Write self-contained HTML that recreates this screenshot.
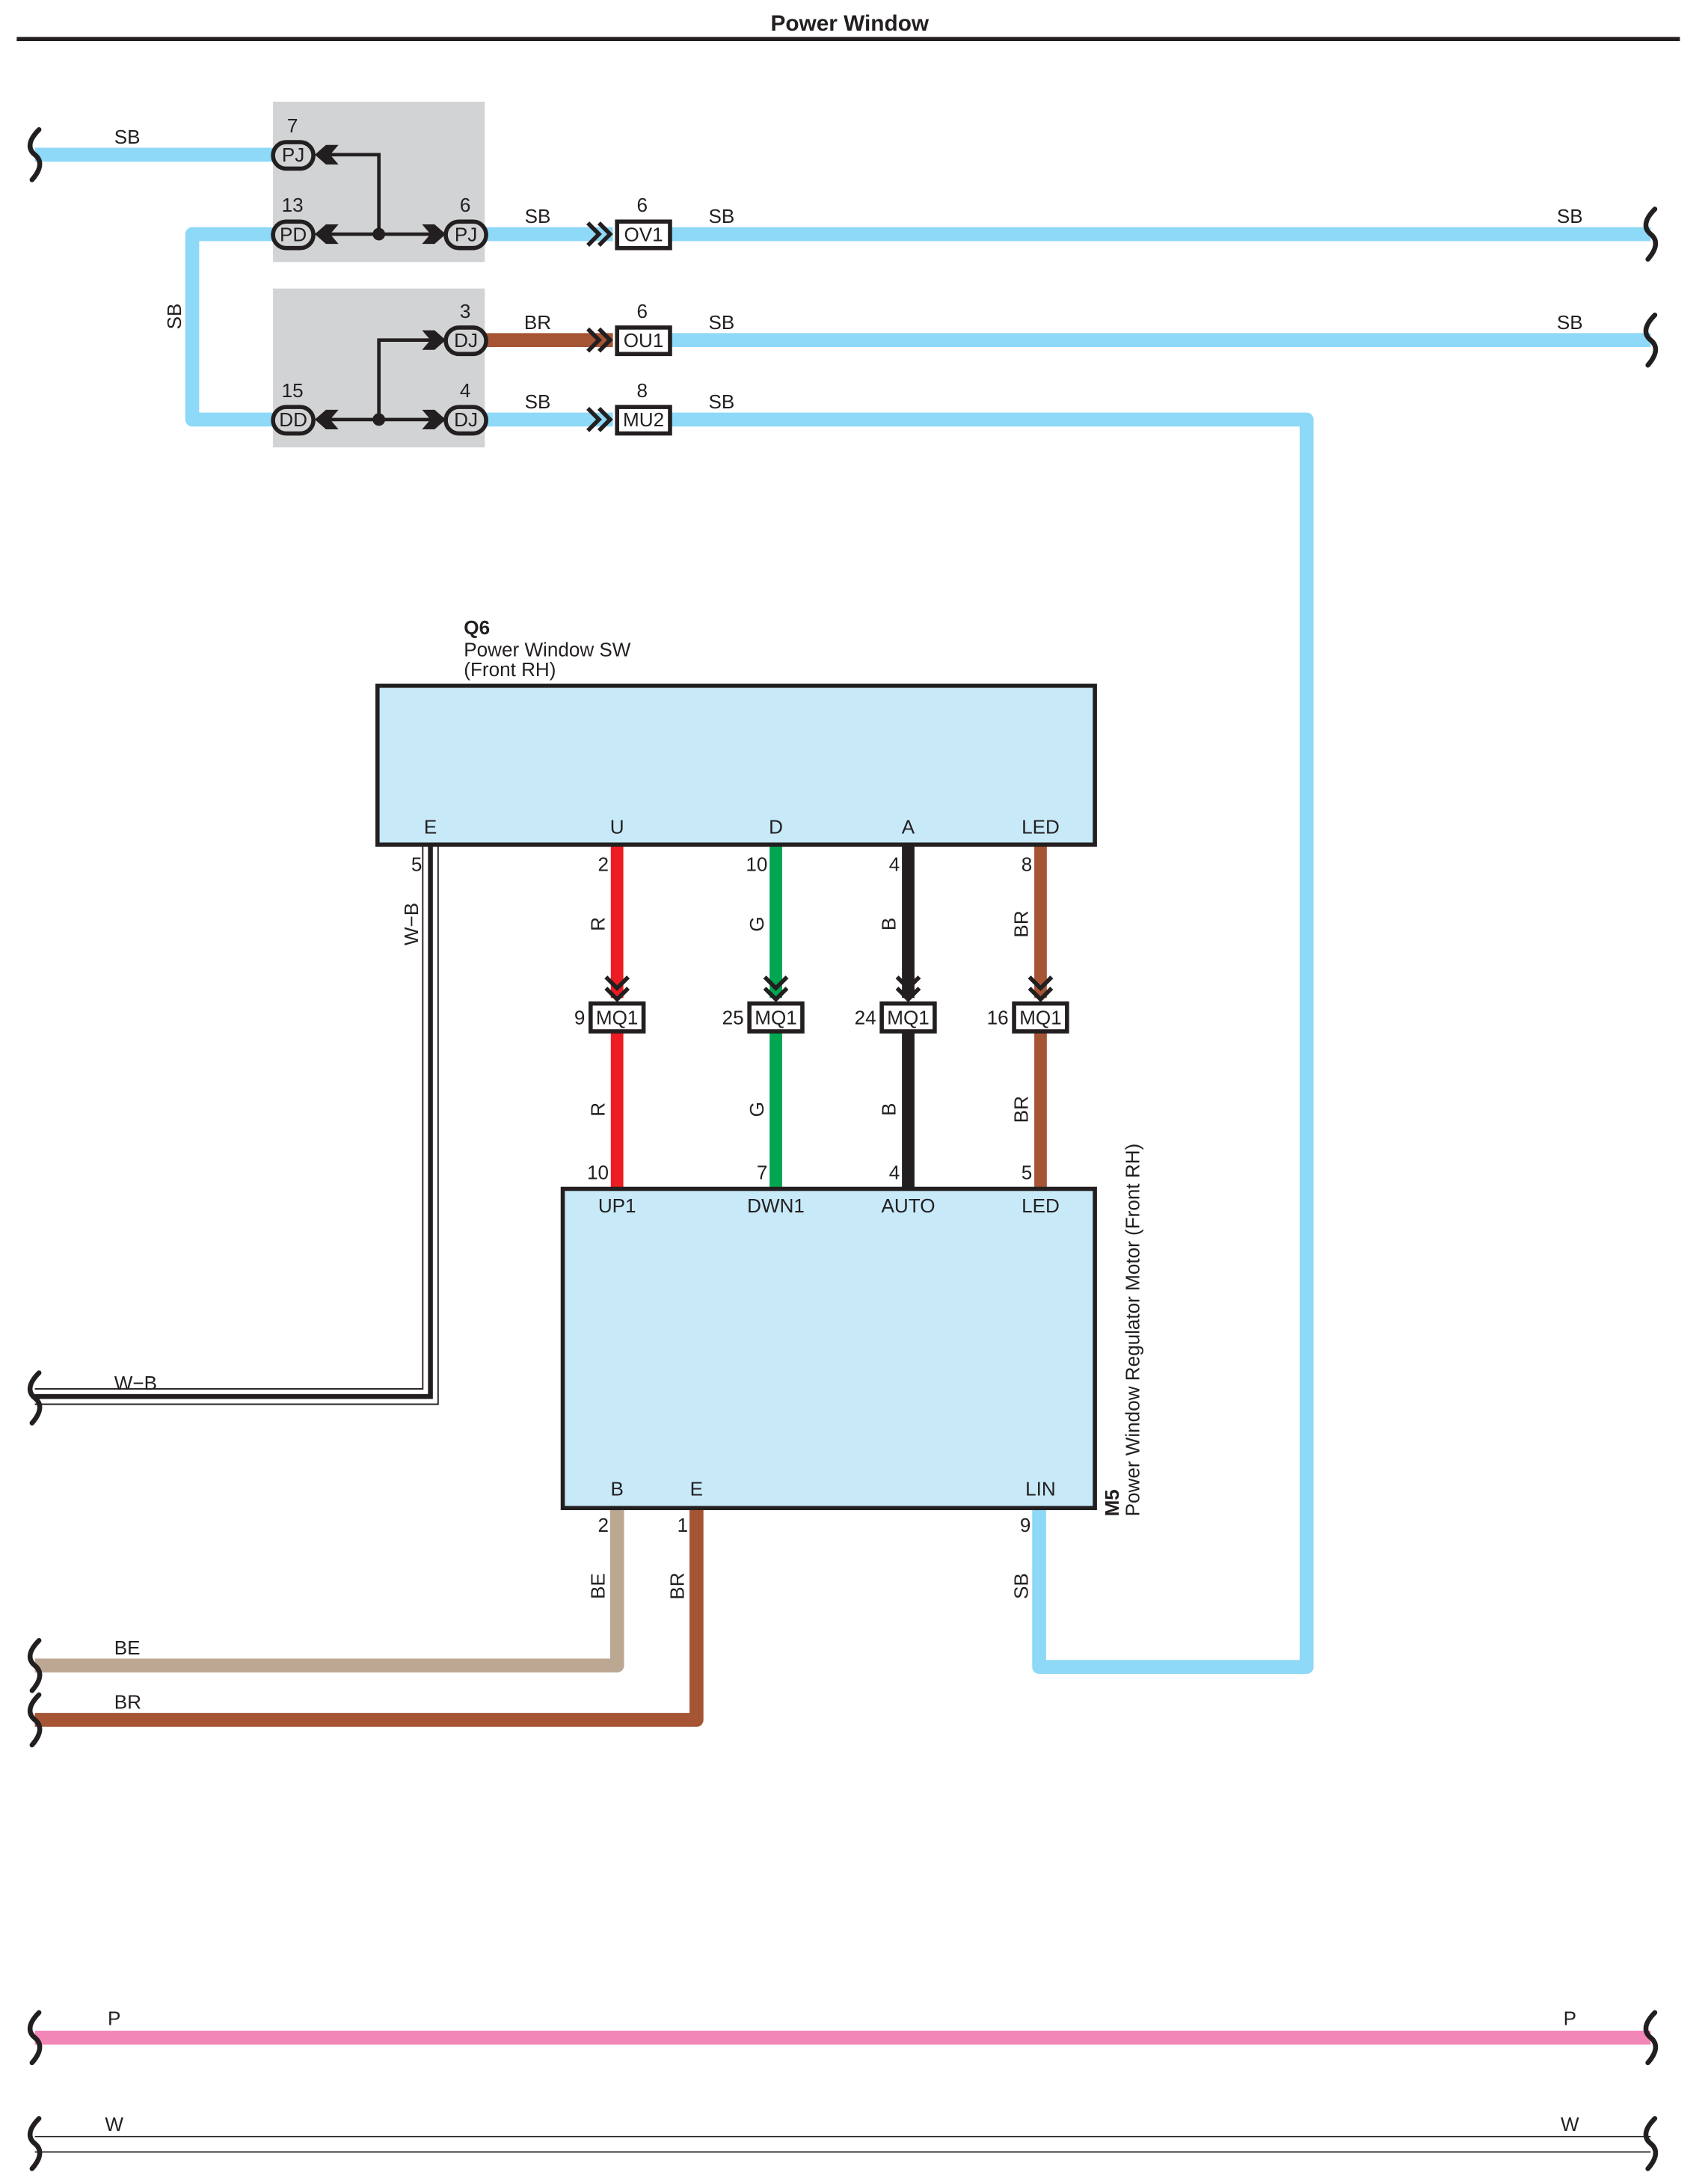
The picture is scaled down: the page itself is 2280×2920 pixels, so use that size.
<!DOCTYPE html>
<html><head><meta charset="utf-8"><style>
html,body{margin:0;padding:0;background:#fff}
svg{display:block}
text{font-family:"Liberation Sans Narrow","Liberation Sans",Arial,sans-serif;font-size:14px;fill:#231f20}
</style></head><body>
<svg width="2280" height="2920" viewBox="0 0 1224 1567" preserveAspectRatio="none" xmlns="http://www.w3.org/2000/svg">
<defs>
<g id="sqL"><path d="M28,-18 C20,-10 20,-4 25,0 C30,4 30,10 23,18" fill="none" stroke="#231f20" stroke-width="3.5" stroke-linecap="round"/></g>
<g id="chR"><polyline points="-16,-8 -8,0 -16,8" fill="none" stroke="#231f20" stroke-width="3"/><polyline points="-8,-8 0,0 -8,8" fill="none" stroke="#231f20" stroke-width="3"/></g>
<g id="chD"><polyline points="-8,-16 0,-8 8,-16" fill="none" stroke="#231f20" stroke-width="3"/><polyline points="-8,-8 0,0 8,-8" fill="none" stroke="#231f20" stroke-width="3"/></g>
</defs>
<text x="610" y="22" text-anchor="middle" style="font-family:'Liberation Sans',Arial,sans-serif;font-weight:bold;font-size:16px">Power Window</text>
<line x1="12" y1="28" x2="1206" y2="28" stroke="#231f20" stroke-width="3"/>

<rect x="196" y="73" width="152" height="115" fill="#d1d3d4"/>
<rect x="196" y="207" width="152" height="114" fill="#d1d3d4"/>

<g fill="none" stroke="#8ed8f8" stroke-width="10" stroke-linejoin="round">
<path d="M25,111 L200,111"/>
<path d="M200,168 L138,168 L138,301 L200,301"/>
<path d="M348,168 L440,168"/>
<path d="M348,301 L440,301"/>
<path d="M481,168 L1185,168"/>
<path d="M481,244 L1185,244"/>
<path d="M481,301 L938,301 L938,1196 L746,1196 L746,1083"/>
</g>
<path d="M348,244 L440,244" stroke="#a65534" stroke-width="10"/>
<text x="82" y="103">SB</text>
<text x="0" y="0" transform="translate(130,227) rotate(-90)" text-anchor="middle">SB</text>
<text x="386" y="160" text-anchor="middle">SB</text>
<text x="386" y="236" text-anchor="middle">BR</text>
<text x="386" y="293" text-anchor="middle">SB</text>
<text x="518" y="160" text-anchor="middle">SB</text>
<text x="518" y="236" text-anchor="middle">SB</text>
<text x="518" y="293" text-anchor="middle">SB</text>
<text x="1127" y="160" text-anchor="middle">SB</text>
<text x="1127" y="236" text-anchor="middle">SB</text>
<use href="#sqL" transform="translate(0,111)"/>
<use href="#sqL" transform="translate(1160,168)"/>
<use href="#sqL" transform="translate(1160,244)"/>

<g stroke="#231f20" stroke-width="2.5" fill="none">
<path d="M236,111 L272,111 L272,168"/>
<path d="M236,168 L312,168"/>
<path d="M236,301 L312,301"/>
<path d="M272,301 L272,244 L312,244"/>
</g>
<circle cx="272" cy="168" r="4.5" fill="#231f20"/>
<circle cx="272" cy="301" r="4.5" fill="#231f20"/>
<g fill="#231f20">
<polygon points="226,111 234,104 243,104 237,111 243,118 234,118"/>
<polygon points="226,168 234,161 243,161 237,168 243,175 234,175"/>
<polygon points="226,301 234,294 243,294 237,301 243,308 234,308"/>
<polygon points="320,168 312,161 303,161 309,168 303,175 312,175"/>
<polygon points="320,244 312,237 303,237 309,244 303,251 312,251"/>
<polygon points="320,301 312,294 303,294 309,301 303,308 312,308"/>
</g>
<g fill="#d1d3d4" stroke="#231f20" stroke-width="3">
<rect x="196" y="102" width="29" height="19" rx="9.5"/>
<rect x="196" y="159" width="29" height="19" rx="9.5"/>
<rect x="196" y="292" width="29" height="19" rx="9.5"/>
<rect x="320" y="159" width="29" height="19" rx="9.5"/>
<rect x="320" y="235" width="29" height="19" rx="9.5"/>
<rect x="320" y="292" width="29" height="19" rx="9.5"/>
</g>
<g text-anchor="middle">
<text x="210.5" y="116">PJ</text><text x="210" y="95">7</text>
<text x="210.5" y="173">PD</text><text x="210" y="152">13</text>
<text x="210.5" y="306">DD</text><text x="210" y="285">15</text>
<text x="334.5" y="173">PJ</text><text x="334" y="152">6</text>
<text x="334.5" y="249">DJ</text><text x="334" y="228">3</text>
<text x="334.5" y="306">DJ</text><text x="334" y="285">4</text>
</g>
<use href="#chR" transform="translate(438,168)"/>
<use href="#chR" transform="translate(438,244)"/>
<use href="#chR" transform="translate(438,301)"/>
<g fill="#fff" stroke="#231f20" stroke-width="3">
<rect x="443" y="159" width="38" height="19"/>
<rect x="443" y="235" width="38" height="19"/>
<rect x="443" y="292" width="38" height="19"/>
</g>
<g text-anchor="middle">
<text x="462" y="173">OV1</text><text x="461" y="152">6</text>
<text x="462" y="249">OU1</text><text x="461" y="228">6</text>
<text x="462" y="306">MU2</text><text x="461" y="285">8</text>
</g>

<text x="333" y="455" style="font-weight:bold">Q6</text>
<text x="333" y="471">Power Window SW</text>
<text x="333" y="485">(Front RH)</text>

<path d="M309,606 L309,1002 L25,1002" fill="none" stroke="#231f20" stroke-width="12"/>
<path d="M309,606 L309,1002 L25,1002" fill="none" stroke="#fff" stroke-width="10"/>
<path d="M309,606 L309,1002 L25,1002" fill="none" stroke="#231f20" stroke-width="3.5"/>
<use href="#sqL" transform="translate(0,1003)"/>
<text x="82" y="997">W−B</text>
<text transform="translate(300,663) rotate(-90)" text-anchor="middle">W−B</text>
<text x="303" y="625" text-anchor="end">5</text>

<g stroke-width="9" fill="none">
<path d="M443,606 L443,716 M443,740 L443,853" stroke="#ed1c24"/>
<path d="M557,606 L557,716 M557,740 L557,853" stroke="#00a650"/>
<path d="M652,606 L652,716 M652,740 L652,853" stroke="#231f20"/>
<path d="M747,606 L747,716 M747,740 L747,853" stroke="#a65534"/>
</g>
<use href="#chD" transform="translate(443,717)"/>
<use href="#chD" transform="translate(557,717)"/>
<use href="#chD" transform="translate(652,717)"/>
<use href="#chD" transform="translate(747,717)"/>
<g fill="#fff" stroke="#231f20" stroke-width="3">
<rect x="424" y="720" width="38" height="20"/>
<rect x="538" y="720" width="38" height="20"/>
<rect x="633" y="720" width="38" height="20"/>
<rect x="728" y="720" width="38" height="20"/>
</g>
<g text-anchor="middle">
<text x="443" y="735">MQ1</text><text x="557" y="735">MQ1</text><text x="652" y="735">MQ1</text><text x="747" y="735">MQ1</text>
</g>
<g text-anchor="end">
<text x="420" y="735">9</text><text x="534" y="735">25</text><text x="629" y="735">24</text><text x="724" y="735">16</text>
<text x="437" y="625">2</text><text x="551" y="625">10</text><text x="646" y="625">4</text><text x="741" y="625">8</text>
<text x="437" y="846">10</text><text x="551" y="846">7</text><text x="646" y="846">4</text><text x="741" y="846">5</text>
</g>
<g text-anchor="middle">
<text transform="translate(434,663) rotate(-90)">R</text>
<text transform="translate(548,663) rotate(-90)">G</text>
<text transform="translate(643,663) rotate(-90)">B</text>
<text transform="translate(738,663) rotate(-90)">BR</text>
<text transform="translate(434,796) rotate(-90)">R</text>
<text transform="translate(548,796) rotate(-90)">G</text>
<text transform="translate(643,796) rotate(-90)">B</text>
<text transform="translate(738,796) rotate(-90)">BR</text>
</g>

<rect x="271" y="492" width="515" height="114" fill="#c7e9f8" stroke="#231f20" stroke-width="3"/>
<g text-anchor="middle">
<text x="309" y="598">E</text><text x="443" y="598">U</text><text x="557" y="598">D</text><text x="652" y="598">A</text><text x="747" y="598">LED</text>
</g>

<path d="M25,1195 L443,1195 L443,1083" fill="none" stroke="#bca793" stroke-width="10" stroke-linejoin="round"/>
<path d="M25,1234 L500,1234 L500,1083" fill="none" stroke="#a65534" stroke-width="10" stroke-linejoin="round"/>
<use href="#sqL" transform="translate(0,1195)"/>
<use href="#sqL" transform="translate(0,1234)"/>
<text x="82" y="1187">BE</text>
<text x="82" y="1226">BR</text>
<text x="437" y="1099" text-anchor="end">2</text>
<text x="494" y="1099" text-anchor="end">1</text>
<text x="740" y="1099" text-anchor="end">9</text>
<g text-anchor="middle">
<text transform="translate(434,1138) rotate(-90)">BE</text>
<text transform="translate(491,1138) rotate(-90)">BR</text>
<text transform="translate(738,1138) rotate(-90)">SB</text>
</g>

<rect x="404" y="853" width="382" height="229" fill="#c7e9f8" stroke="#231f20" stroke-width="3"/>
<g text-anchor="middle">
<text x="443" y="870">UP1</text><text x="557" y="870">DWN1</text><text x="652" y="870">AUTO</text><text x="747" y="870">LED</text>
<text x="443" y="1073">B</text><text x="500" y="1073">E</text><text x="747" y="1073">LIN</text>
</g>
<text transform="translate(803,1088) rotate(-90)" style="font-weight:bold">M5</text>
<text transform="translate(818,1088) rotate(-90)">Power Window Regulator Motor (Front RH)</text>

<path d="M25,1462 L1185,1462" stroke="#f287b7" stroke-width="10"/>
<use href="#sqL" transform="translate(0,1462)"/>
<use href="#sqL" transform="translate(1160,1462)"/>
<text x="82" y="1453" text-anchor="middle">P</text>
<text x="1127" y="1453" text-anchor="middle">P</text>
<line x1="25" y1="1533" x2="1185" y2="1533" stroke="#231f20" stroke-width="0.8"/>
<line x1="25" y1="1544" x2="1185" y2="1544" stroke="#231f20" stroke-width="0.8"/>
<use href="#sqL" transform="translate(0,1538)"/>
<use href="#sqL" transform="translate(1160,1538)"/>
<text x="82" y="1529" text-anchor="middle">W</text>
<text x="1127" y="1529" text-anchor="middle">W</text>
</svg>
</body></html>
